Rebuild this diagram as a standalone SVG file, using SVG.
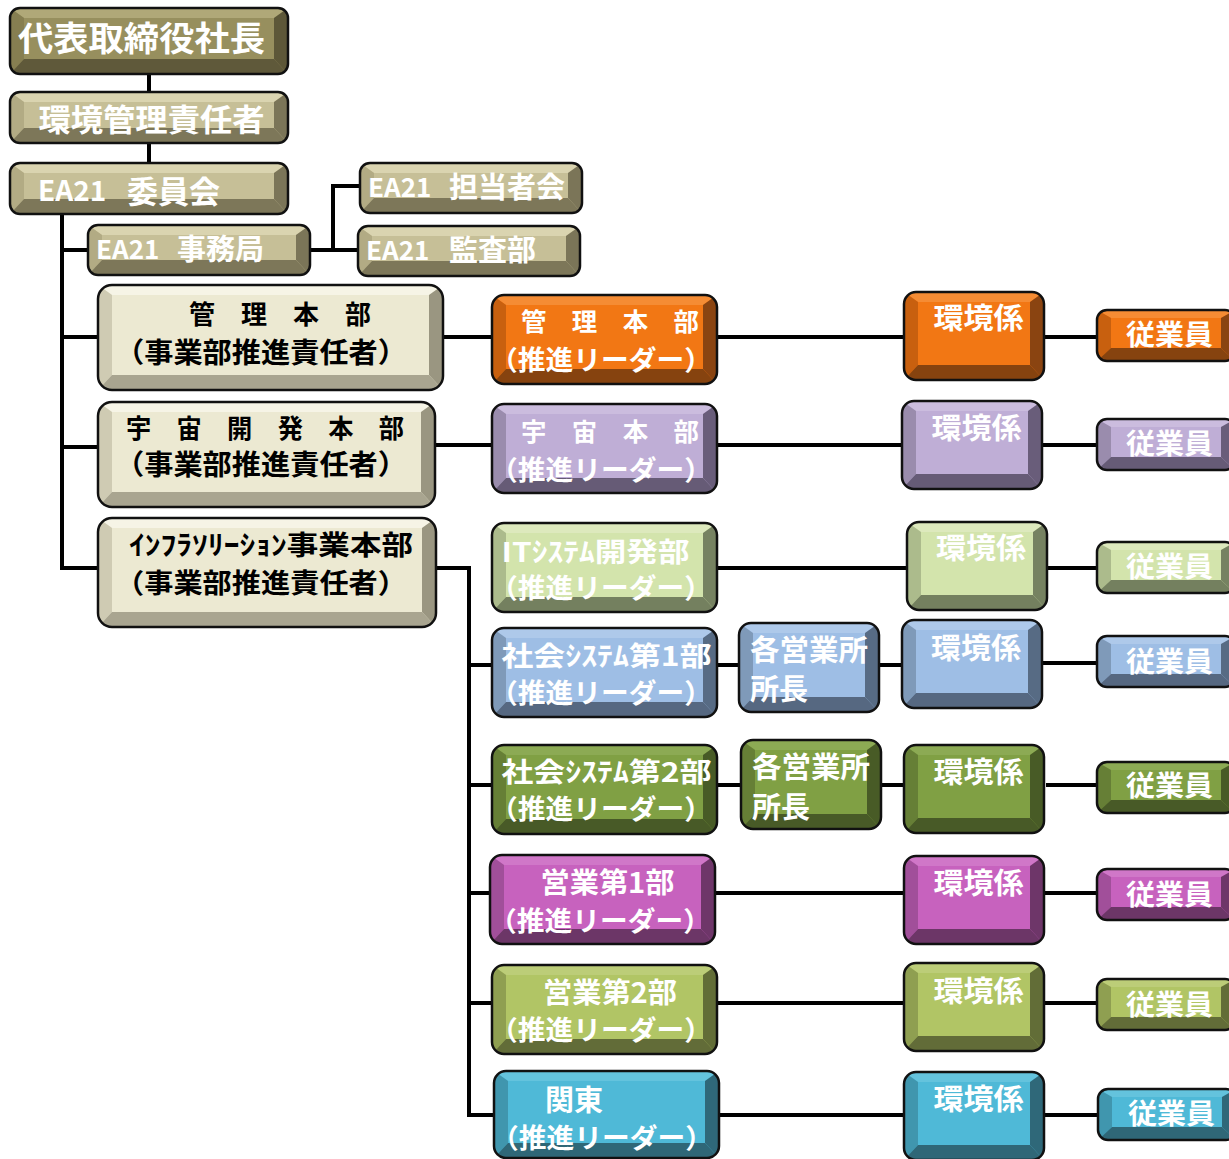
<svg xmlns="http://www.w3.org/2000/svg" width="1229" height="1159" viewBox="0 0 1229 1159">
<style>
text{font-family:"Noto Sans CJK JP","Noto Sans CJK SC","Noto Sans",sans-serif;font-weight:700;dominant-baseline:central}
.w{fill:#fff}.k{fill:#000}
.f{fill:var(--f)}.t{fill:var(--t)}.l{fill:var(--l)}.r{fill:var(--r)}.b{fill:var(--b)}
.o{fill:none;stroke:#111;stroke-width:2.5}
.k1{--f:#978f5e;--t:#b0a878;--l:#867e51;--r:#5d5738;--b:#5f593a}
.k2{--f:#c6bf97;--t:#dad4b0;--l:#b2ab84;--r:#7b7558;--b:#7d7759}
.bg{--f:#ece9d2;--t:#f6f4e6;--l:#cfcbb3;--r:#9a9681;--b:#a9a590}
.or{--f:#f27714;--t:#f58c34;--l:#c8600f;--r:#8a4411;--b:#86430f}
.pu{--f:#bfaed6;--t:#cbbcde;--l:#9a8cad;--r:#695d7a;--b:#665b76}
.lg{--f:#d3e4ac;--t:#dde9bd;--l:#acbb8c;--r:#768261;--b:#74805f}
.bl{--f:#9ebee5;--t:#aec9ea;--l:#7f9ab9;--r:#576b84;--b:#566881}
.gr{--f:#80a044;--t:#8caa54;--l:#667f36;--r:#485b26;--b:#485a27}
.mg{--f:#c762be;--t:#d077c8;--l:#a14f9a;--r:#6e3669;--b:#6c3667}
.yg{--f:#b1c565;--t:#bccd78;--l:#8f9f51;--r:#626d37;--b:#626c38}
.cy{--f:#4fb9d7;--t:#64c3dd;--l:#4096ae;--r:#2f6879;--b:#2f6777}
</style>
<defs>
<clipPath id="cA"><rect width="278" height="66" rx="10"/></clipPath>
<clipPath id="cB"><rect width="278" height="51" rx="10"/></clipPath>
<clipPath id="cC"><rect width="222" height="50" rx="10"/></clipPath>
<clipPath id="cD"><rect width="345" height="105" rx="14"/></clipPath>
<clipPath id="cE"><rect width="337" height="105" rx="14"/></clipPath>
<clipPath id="cF"><rect width="338" height="109" rx="14"/></clipPath>
<clipPath id="cL"><rect width="225" height="89" rx="12"/></clipPath>
<clipPath id="cL2"><rect width="225" height="87" rx="12"/></clipPath>
<clipPath id="cG"><rect width="140" height="89" rx="12"/></clipPath>
<clipPath id="cK"><rect width="140" height="88" rx="12"/></clipPath>
<clipPath id="cJ"><rect width="138" height="51" rx="10"/></clipPath>
<g id="sA"><g clip-path="url(#cA)"><rect class="f" width="278" height="66"/><polygon class="t" points="0,0 278,0 264,10 14,10"/><polygon class="l" points="0,0 14,10 14,51 0,66"/><polygon class="r" points="278,0 278,66 264,51 264,10"/><polygon class="b" points="0,66 14,51 264,51 278,66"/></g><rect class="o" width="278" height="66" rx="10"/></g>
<g id="sB"><g clip-path="url(#cB)"><rect class="f" width="278" height="51"/><polygon class="t" points="0,0 278,0 264,10 14,10"/><polygon class="l" points="0,0 14,10 14,36 0,51"/><polygon class="r" points="278,0 278,51 264,36 264,10"/><polygon class="b" points="0,51 14,36 264,36 278,51"/></g><rect class="o" width="278" height="51" rx="10"/></g>
<g id="sC"><g clip-path="url(#cC)"><rect class="f" width="222" height="50"/><polygon class="t" points="0,0 222,0 208,10 14,10"/><polygon class="l" points="0,0 14,10 14,35 0,50"/><polygon class="r" points="222,0 222,50 208,35 208,10"/><polygon class="b" points="0,50 14,35 208,35 222,50"/></g><rect class="o" width="222" height="50" rx="10"/></g>
<g id="sD"><g clip-path="url(#cD)"><rect class="f" width="345" height="105"/><polygon class="t" points="0,0 345,0 331,10 14,10"/><polygon class="l" points="0,0 14,10 14,90 0,105"/><polygon class="r" points="345,0 345,105 331,90 331,10"/><polygon class="b" points="0,105 14,90 331,90 345,105"/></g><rect class="o" width="345" height="105" rx="14"/></g>
<g id="sE"><g clip-path="url(#cE)"><rect class="f" width="337" height="105"/><polygon class="t" points="0,0 337,0 323,10 14,10"/><polygon class="l" points="0,0 14,10 14,90 0,105"/><polygon class="r" points="337,0 337,105 323,90 323,10"/><polygon class="b" points="0,105 14,90 323,90 337,105"/></g><rect class="o" width="337" height="105" rx="14"/></g>
<g id="sF"><g clip-path="url(#cF)"><rect class="f" width="338" height="109"/><polygon class="t" points="0,0 338,0 324,10 14,10"/><polygon class="l" points="0,0 14,10 14,94 0,109"/><polygon class="r" points="338,0 338,109 324,94 324,10"/><polygon class="b" points="0,109 14,94 324,94 338,109"/></g><rect class="o" width="338" height="109" rx="14"/></g>
<g id="sL"><g clip-path="url(#cL)"><rect class="f" width="225" height="89"/><polygon class="t" points="0,0 225,0 211,10 14,10"/><polygon class="l" points="0,0 14,10 14,74 0,89"/><polygon class="r" points="225,0 225,89 211,74 211,10"/><polygon class="b" points="0,89 14,74 211,74 225,89"/></g><rect class="o" width="225" height="89" rx="12"/></g>
<g id="sL2"><g clip-path="url(#cL2)"><rect class="f" width="225" height="87"/><polygon class="t" points="0,0 225,0 211,10 14,10"/><polygon class="l" points="0,0 14,10 14,72 0,87"/><polygon class="r" points="225,0 225,87 211,72 211,10"/><polygon class="b" points="0,87 14,72 211,72 225,87"/></g><rect class="o" width="225" height="87" rx="12"/></g>
<g id="sG"><g clip-path="url(#cG)"><rect class="f" width="140" height="89"/><polygon class="t" points="0,0 140,0 126,10 14,10"/><polygon class="l" points="0,0 14,10 14,74 0,89"/><polygon class="r" points="140,0 140,89 126,74 126,10"/><polygon class="b" points="0,89 14,74 126,74 140,89"/></g><rect class="o" width="140" height="89" rx="12"/></g>
<g id="sK"><g clip-path="url(#cK)"><rect class="f" width="140" height="88"/><polygon class="t" points="0,0 140,0 126,10 14,10"/><polygon class="l" points="0,0 14,10 14,73 0,88"/><polygon class="r" points="140,0 140,88 126,73 126,10"/><polygon class="b" points="0,88 14,73 126,73 140,88"/></g><rect class="o" width="140" height="88" rx="12"/></g>
<g id="sJ"><g clip-path="url(#cJ)"><rect class="f" width="138" height="51"/><polygon class="t" points="0,0 138,0 124,8 14,8"/><polygon class="l" points="0,0 14,8 14,38 0,51"/><polygon class="r" points="138,0 138,51 124,38 124,8"/><polygon class="b" points="0,51 14,38 124,38 138,51"/></g><rect class="o" width="138" height="51" rx="10"/></g>
</defs>

<g id="connectors" fill="none" stroke="#000" stroke-width="4">
<path d="M149,74V92M149,143V163"/>
<path d="M62,213V568H100M62,250H90M62,337H100M62,447H100"/>
<path d="M310,250H333V186H362M333,250H360"/>
<path d="M443,337H494M435,445H494M436,568H469V1115H496M469,665H494M469,785H494M469,893H492M469,1003H494"/>
<path d="M717,337H906M717,445H904M717,568H909M717,665H741M879,665H904M717,785H743M880,785H906M715,893H906M717,1003H906M719,1115H906"/>
<path d="M1043,337H1099M1042,445H1099M1046,568H1099M1042,663H1099M1046,785H1099M1043,893H1099M1043,1003H1099M1043,1115H1100"/>
</g>

<g id="n-president" class="k1" transform="translate(10,8)"><use href="#sA"/><text class="w" x="131.5" y="28" font-size="34" text-anchor="middle" textLength="247" lengthAdjust="spacingAndGlyphs">代表取締役社長</text></g>
<g id="n-env-manager" class="k2" transform="translate(10,92)"><use href="#sB"/><text class="w" x="141.5" y="25" font-size="31" text-anchor="middle" textLength="226" lengthAdjust="spacingAndGlyphs">環境管理責任者</text></g>
<g id="n-committee" class="k2" transform="translate(10,163)"><use href="#sB"/><text class="w" y="26"><tspan x="28" font-size="28">EA21</tspan> <tspan x="117" font-size="31">委員会</tspan></text></g>
<g id="n-secretariat" class="k2" transform="translate(88,225)"><use href="#sC"/><text class="w" y="22"><tspan x="8" font-size="26">EA21</tspan> <tspan x="89" font-size="29">事務局</tspan></text></g>
<g id="n-staff-meeting" class="k2" transform="translate(360,163)"><use href="#sC"/><text class="w" y="22"><tspan x="8" font-size="26">EA21</tspan> <tspan x="89" font-size="29">担当者会</tspan></text></g>
<g id="n-audit" class="k2" transform="translate(358,226)"><use href="#sC"/><text class="w" y="22"><tspan x="8" font-size="26">EA21</tspan> <tspan x="91" font-size="29">監査部</tspan></text></g>

<g id="n-hq-admin" class="bg" transform="translate(98,285)"><use href="#sD"/><text class="k" x="182" y="27" font-size="26" text-anchor="middle" textLength="182" lengthAdjust="spacingAndGlyphs">管　理　本　部</text><text class="k" x="163" y="66" font-size="28" text-anchor="middle" textLength="292" lengthAdjust="spacingAndGlyphs">（事業部推進責任者）</text></g>
<g id="n-hq-space" class="bg" transform="translate(98,402)"><use href="#sE"/><text class="k" x="167" y="24" font-size="26" text-anchor="middle" textLength="278" lengthAdjust="spacingAndGlyphs">宇　宙　開　発　本　部</text><text class="k" x="163" y="61" font-size="28" text-anchor="middle" textLength="292" lengthAdjust="spacingAndGlyphs">（事業部推進責任者）</text></g>
<g id="n-hq-infra" class="bg" transform="translate(98,518)"><use href="#sF"/><text class="k" x="173" y="25" font-size="27" text-anchor="middle" textLength="284" lengthAdjust="spacingAndGlyphs">ｲﾝﾌﾗｿﾘｰｼｮﾝ事業本部</text><text class="k" x="163" y="63" font-size="27" text-anchor="middle" textLength="292" lengthAdjust="spacingAndGlyphs">（事業部推進責任者）</text></g>

<g id="n-lead-admin" class="or" transform="translate(492,295)"><use href="#sL"/><text class="w" x="118" y="25" font-size="25" text-anchor="middle" textLength="178" lengthAdjust="spacingAndGlyphs">管　理　本　部</text><text class="w" x="109" y="63" font-size="27" text-anchor="middle" textLength="222" lengthAdjust="spacingAndGlyphs">（推進リーダー）</text></g>
<g id="n-lead-space" class="pu" transform="translate(492,404)"><use href="#sL"/><text class="w" x="118" y="26" font-size="25" text-anchor="middle" textLength="178" lengthAdjust="spacingAndGlyphs">宇　宙　本　部</text><text class="w" x="109" y="64" font-size="27" text-anchor="middle" textLength="222" lengthAdjust="spacingAndGlyphs">（推進リーダー）</text></g>
<g id="n-lead-it" class="lg" transform="translate(492,523)"><use href="#sL"/><text class="w" x="103.5" y="27" font-size="27" text-anchor="middle" textLength="188" lengthAdjust="spacingAndGlyphs">ITｼｽﾃﾑ開発部</text><text class="w" x="109" y="63" font-size="27" text-anchor="middle" textLength="222" lengthAdjust="spacingAndGlyphs">（推進リーダー）</text></g>
<g id="n-lead-social1" class="bl" transform="translate(492,628)"><use href="#sL"/><text class="w" x="114.5" y="26" font-size="27" text-anchor="middle" textLength="210" lengthAdjust="spacingAndGlyphs">社会ｼｽﾃﾑ第1部</text><text class="w" x="109" y="63" font-size="27" text-anchor="middle" textLength="222" lengthAdjust="spacingAndGlyphs">（推進リーダー）</text></g>
<g id="n-office1" class="bl" transform="translate(739,623)"><use href="#sG"/><text class="w" x="11" y="25" font-size="29" textLength="118" lengthAdjust="spacingAndGlyphs">各営業所</text><text class="w" x="11" y="64" font-size="29">所長</text></g>
<g id="n-lead-social2" class="gr" transform="translate(492,745)"><use href="#sL"/><text class="w" x="114.5" y="25" font-size="27" text-anchor="middle" textLength="210" lengthAdjust="spacingAndGlyphs">社会ｼｽﾃﾑ第2部</text><text class="w" x="109" y="62" font-size="27" text-anchor="middle" textLength="222" lengthAdjust="spacingAndGlyphs">（推進リーダー）</text></g>
<g id="n-office2" class="gr" transform="translate(741,740)"><use href="#sG"/><text class="w" x="11" y="25" font-size="29" textLength="118" lengthAdjust="spacingAndGlyphs">各営業所</text><text class="w" x="11" y="65" font-size="29">所長</text></g>
<g id="n-lead-sales1" class="mg" transform="translate(490,855)"><use href="#sL"/><text class="w" x="117.5" y="26" font-size="28" text-anchor="middle" textLength="134" lengthAdjust="spacingAndGlyphs">営業第1部</text><text class="w" x="110" y="64" font-size="27" text-anchor="middle" textLength="222" lengthAdjust="spacingAndGlyphs">（推進リーダー）</text></g>
<g id="n-lead-sales2" class="yg" transform="translate(492,965)"><use href="#sL"/><text class="w" x="118" y="26" font-size="28" text-anchor="middle" textLength="134" lengthAdjust="spacingAndGlyphs">営業第2部</text><text class="w" x="109" y="63" font-size="27" text-anchor="middle" textLength="222" lengthAdjust="spacingAndGlyphs">（推進リーダー）</text></g>
<g id="n-lead-kanto" class="cy" transform="translate(494,1071)"><use href="#sL2"/><text class="w" x="80" y="27" font-size="29" text-anchor="middle">関東</text><text class="w" x="108" y="65" font-size="27" text-anchor="middle" textLength="222" lengthAdjust="spacingAndGlyphs">（推進リーダー）</text></g>

<g id="n-env-admin" class="or" transform="translate(904,292)"><use href="#sK"/><text class="w" x="74.5" y="24" font-size="29" text-anchor="middle" textLength="90" lengthAdjust="spacingAndGlyphs">環境係</text></g>
<g id="n-env-space" class="pu" transform="translate(902,401)"><use href="#sK"/><text class="w" x="74.5" y="25" font-size="29" text-anchor="middle" textLength="90" lengthAdjust="spacingAndGlyphs">環境係</text></g>
<g id="n-env-it" class="lg" transform="translate(907,522)"><use href="#sK"/><text class="w" x="74" y="24" font-size="29" text-anchor="middle" textLength="90" lengthAdjust="spacingAndGlyphs">環境係</text></g>
<g id="n-env-social1" class="bl" transform="translate(902,620)"><use href="#sK"/><text class="w" x="74" y="26" font-size="29" text-anchor="middle" textLength="90" lengthAdjust="spacingAndGlyphs">環境係</text></g>
<g id="n-env-social2" class="gr" transform="translate(904,745)"><use href="#sK"/><text class="w" x="74.5" y="25" font-size="29" text-anchor="middle" textLength="90" lengthAdjust="spacingAndGlyphs">環境係</text></g>
<g id="n-env-sales1" class="mg" transform="translate(904,856)"><use href="#sK"/><text class="w" x="74.5" y="25" font-size="29" text-anchor="middle" textLength="90" lengthAdjust="spacingAndGlyphs">環境係</text></g>
<g id="n-env-sales2" class="yg" transform="translate(904,963)"><use href="#sK"/><text class="w" x="74.5" y="26" font-size="29" text-anchor="middle" textLength="90" lengthAdjust="spacingAndGlyphs">環境係</text></g>
<g id="n-env-kanto" class="cy" transform="translate(904,1072)"><use href="#sK"/><text class="w" x="74.5" y="25" font-size="29" text-anchor="middle" textLength="90" lengthAdjust="spacingAndGlyphs">環境係</text></g>

<g id="n-emp-admin" class="or" transform="translate(1097,310)"><use href="#sJ"/><text class="w" x="72.5" y="23" font-size="28" text-anchor="middle" textLength="87" lengthAdjust="spacingAndGlyphs">従業員</text></g>
<g id="n-emp-space" class="pu" transform="translate(1097,419)"><use href="#sJ"/><text class="w" x="72.5" y="23" font-size="28" text-anchor="middle" textLength="87" lengthAdjust="spacingAndGlyphs">従業員</text></g>
<g id="n-emp-it" class="lg" transform="translate(1097,542)"><use href="#sJ"/><text class="w" x="72.5" y="23" font-size="28" text-anchor="middle" textLength="87" lengthAdjust="spacingAndGlyphs">従業員</text></g>
<g id="n-emp-social1" class="bl" transform="translate(1097,636)"><use href="#sJ"/><text class="w" x="72.5" y="24" font-size="28" text-anchor="middle" textLength="87" lengthAdjust="spacingAndGlyphs">従業員</text></g>
<g id="n-emp-social2" class="gr" transform="translate(1097,762)"><use href="#sJ"/><text class="w" x="72.5" y="22" font-size="28" text-anchor="middle" textLength="87" lengthAdjust="spacingAndGlyphs">従業員</text></g>
<g id="n-emp-sales1" class="mg" transform="translate(1097,869)"><use href="#sJ"/><text class="w" x="72.5" y="24" font-size="28" text-anchor="middle" textLength="87" lengthAdjust="spacingAndGlyphs">従業員</text></g>
<g id="n-emp-sales2" class="yg" transform="translate(1097,979)"><use href="#sJ"/><text class="w" x="72.5" y="24" font-size="28" text-anchor="middle" textLength="87" lengthAdjust="spacingAndGlyphs">従業員</text></g>
<g id="n-emp-kanto" class="cy" transform="translate(1098,1089)"><use href="#sJ"/><text class="w" x="73.5" y="23" font-size="28" text-anchor="middle" textLength="87" lengthAdjust="spacingAndGlyphs">従業員</text></g>
</svg>
